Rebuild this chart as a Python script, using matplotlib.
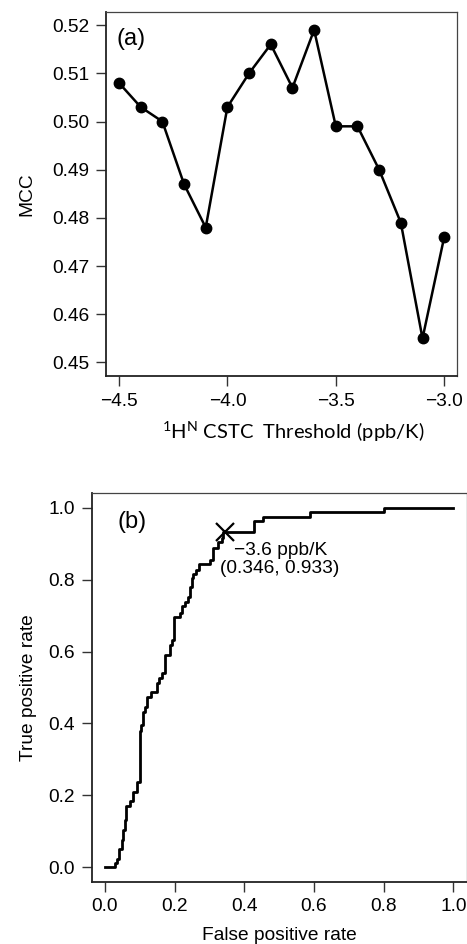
import numpy as np
import matplotlib
matplotlib.use('Agg')
from matplotlib import pyplot as plt
from matplotlib.ticker import FuncFormatter

plt.rcParams['font.family'] = ['Liberation Sans', 'DejaVu Sans']

# (a) MCC vs CSTC threshold
threshold = [-4.5, -4.4, -4.3, -4.2, -4.1, -4.0, -3.9, -3.8,
             -3.7, -3.6, -3.5, -3.4, -3.3, -3.2, -3.1, -3.0]
mcc = [0.508, 0.503, 0.500, 0.487, 0.478, 0.503, 0.510, 0.516,
       0.507, 0.519, 0.499, 0.499, 0.490, 0.479, 0.455, 0.476]

# (b) ROC curve, step corners (fpr where the jump happens, new tpr)
roc_fpr = [0.0, 0.029, 0.0355, 0.040, 0.048, 0.053, 0.0575, 0.062, 0.072,
           0.081, 0.091, 0.1006, 0.105, 0.110, 0.115, 0.1197, 0.134, 0.1485,
           0.156, 0.165, 0.174, 0.187, 0.192, 0.199, 0.2155, 0.222, 0.230,
           0.240, 0.244, 0.249, 0.252, 0.2615, 0.271, 0.302, 0.311, 0.326,
           0.335, 0.340, 0.428, 0.455, 0.589, 0.802, 1.0]
roc_tpr = [0.0, 0.012, 0.024, 0.052, 0.077, 0.103, 0.131, 0.170, 0.184,
           0.210, 0.236, 0.380, 0.396, 0.433, 0.447, 0.474, 0.488, 0.513,
           0.526, 0.539, 0.591, 0.618, 0.632, 0.697, 0.708, 0.727, 0.739,
           0.752, 0.780, 0.804, 0.815, 0.827, 0.843, 0.855, 0.888, 0.906,
           0.916, 0.933, 0.962, 0.974, 0.987, 1.0, 1.0]
best_fpr, best_tpr = 0.346, 0.933
best_label = '\u22123.6 ppb/K\n(0.346, 0.933)'


def fmt(digits):
    return FuncFormatter(lambda v, p: f'{v:.{digits}f}'.replace('-', '\u2212'))


fs = 13.8
fig = plt.figure(figsize=(4.67, 9.44), dpi=100)

ax1 = fig.add_axes([0.227, 0.6017, 0.752, 0.386])
ax1.plot(threshold, mcc, color='black', lw=1.8, marker='o', ms=7.5)
ax1.set_xlim(-4.56, -2.94)
ax1.set_ylim(0.4472, 0.5228)
ax1.set_xticks([-4.5, -4.0, -3.5, -3.0])
ax1.set_yticks(np.arange(0.45, 0.5201, 0.01))
ax1.xaxis.set_major_formatter(fmt(1))
ax1.yaxis.set_major_formatter(fmt(2))
ax1.set_ylabel('MCC', fontsize=fs)
ax1.yaxis.set_label_coords(-0.2, 0.5)
ax1.text(0.03, 0.955, '(a)', transform=ax1.transAxes, fontsize=17,
         ha='left', va='top')
fig.text(0.627, 0.542, r'$\mathregular{^{1}}$H$\mathregular{^{N}}$ CSTC  Threshold (ppb/K)',
         fontsize=14.5, family='Lato', ha='center', va='center')

ax2 = fig.add_axes([0.196, 0.066, 0.804, 0.4114])
ax2.plot(roc_fpr, roc_tpr, color='black', lw=2, drawstyle='steps-post')
ax2.plot([best_fpr], [best_tpr], marker='x', color='black', ms=13, mew=1.6)
ax2.text(0.503, 0.905, best_label, fontsize=fs, ha='center', va='top',
         linespacing=1.1)
ax2.set_xlim(-0.038, 1.039)
ax2.set_ylim(-0.04, 1.04)
ax2.set_xticks(np.arange(0, 1.01, 0.2))
ax2.set_yticks(np.arange(0, 1.01, 0.2))
ax2.xaxis.set_major_formatter(fmt(1))
ax2.yaxis.set_major_formatter(fmt(1))
ax2.set_xlabel('False positive rate', fontsize=fs)
ax2.xaxis.set_label_coords(0.501, -0.117)
ax2.set_ylabel('True positive rate', fontsize=fs)
ax2.yaxis.set_label_coords(-0.146, 0.5)
ax2.text(0.07, 0.955, '(b)', transform=ax2.transAxes, fontsize=17,
         ha='left', va='top')

for ax in (ax1, ax2):
    ax.tick_params(labelsize=fs, length=7, width=1, color='#333333', pad=5)
    for side in ('top', 'right'):
        ax.spines[side].set_linewidth(0.9)
        ax.spines[side].set_color('#444444')
    for side in ('bottom', 'left'):
        ax.spines[side].set_linewidth(1.3)
        ax.spines[side].set_color('#222222')

plt.savefig('out.png', dpi=100)
